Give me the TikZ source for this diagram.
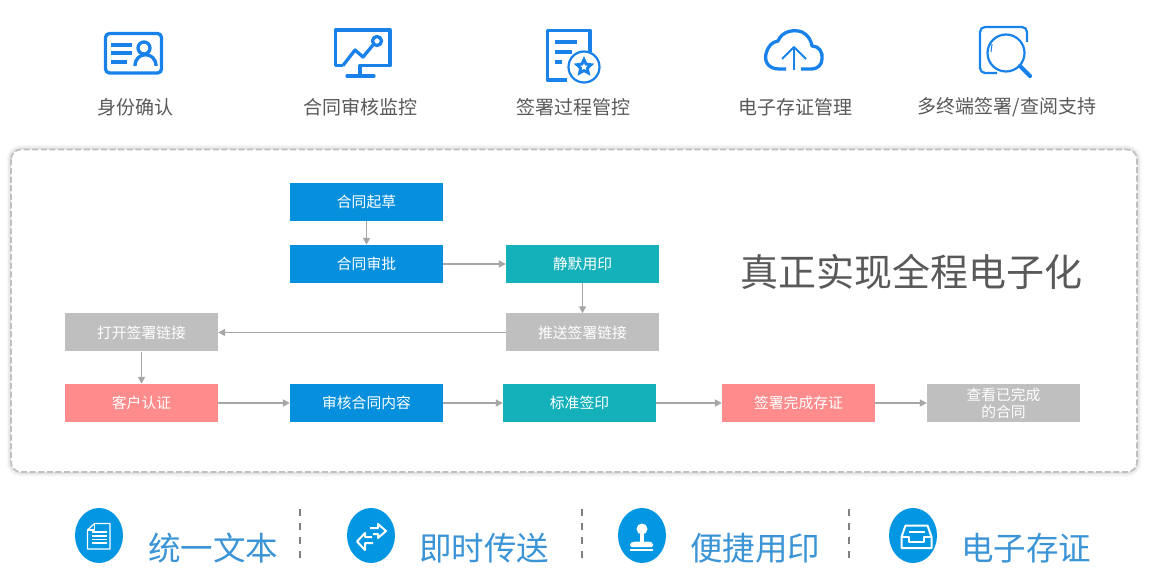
\documentclass[tikz,border=0pt]{standalone}
\usepackage{fontspec}
\setmainfont{Noto Sans CJK SC}
\usepackage{xcolor}
\usetikzlibrary{positioning, arrows.meta, shapes.geometric}
\definecolor{iconblue}{RGB}{24,130,234}
\definecolor{flowblue}{RGB}{6,143,220}
\definecolor{flowteal}{RGB}{20,177,187}
\definecolor{flowgray}{RGB}{191,191,191}
\definecolor{flowpink}{RGB}{255,140,140}
\definecolor{capgray}{RGB}{89,89,89}
\definecolor{capblue}{RGB}{58,148,214}
\definecolor{linkgray}{RGB}{166,166,166}
\definecolor{ballblue}{RGB}{3,150,226}
\newcommand{\fsz}[1]{\fontsize{#1}{#1}\selectfont}

\begin{document}
\begin{tikzpicture}[x=1pt, y=-1pt,
  flow/.style={minimum width=153pt, minimum height=38pt, inner sep=0pt, text=white, align=center, font=\fsz{14.8}},
  fblue/.style={flow, fill=flowblue},
  fteal/.style={flow, fill=flowteal},
  fgray/.style={flow, fill=flowgray},
  fpink/.style={flow, fill=flowpink},
  link/.style={-{Triangle[length=7pt, width=7pt]}, linkgray, line width=1.7pt},
  ico/.style={iconblue, line width=3.3pt, line join=round},
  thin ico/.style={iconblue, line width=2.2pt, line join=round},
  icocap/.style={text=capgray, font=\fsz{19}, inner sep=0pt},
  ball/.style={ellipse, fill=ballblue, minimum width=48pt, minimum height=55pt, inner sep=0pt},
  word/.style={text=capblue, font=\fsz{32.5}, inner sep=0pt},
  divider/.style={gray, line width=2pt, dash pattern=on 7pt off 7pt},
  glyph/.style={white, line width=1.2pt, line join=round}]
\useasboundingbox (0,0) rectangle (1160,585);
\fill[white] (0,0) rectangle (1160,585);

% top icons
\draw[ico, rounded corners=4pt] (105.5,33.5) rectangle (161.5,73);
\draw[ico] (111,45) -- (132,45) (111,53) -- (132,53) (111,62) -- (127,62);
\draw[ico] (144,48) circle (6);
\draw[ico] (135,66) .. controls (135,51) and (156,51) .. (156,66);
\draw[ico] (343,65.5) -- (335.5,65.5) -- (335.5,30) -- (390,30) -- (390,65.5) -- (360,65.5) -- (360,76);
\draw[ico, line cap=round] (347,76) -- (374,76);
\draw[ico] (343,65.5) -- (355,50) -- (363,57) -- (373,45);
\draw[ico, fill=white] (377,41) circle (4.5);
\draw[ico] (590,52) -- (590,30.5) -- (547.5,30.5) -- (547.5,80) -- (567,80);
\draw[ico] (555,42) -- (577,42) (555,52) -- (572,52) (555,62) -- (562,62);
\draw[thin ico] (584,67) circle (15.5);
\node[star, star points=5, star point ratio=2.1, draw=iconblue, line width=2.8pt, minimum size=15pt, inner sep=0pt] (badge) at (584,67) {};
\draw[ico] (786,69) -- (779,69) .. controls (769,69) and (764,62) .. (766,54) .. controls (768,46) and (772,42) .. (778,41)
  .. controls (782,31) and (794,29) .. (802,32) .. controls (808,35) and (811,40) .. (812,46)
  .. controls (819,46) and (823,52) .. (822,59) .. controls (822,65) and (817,69) .. (812,69) -- (801,69);
\draw[iconblue, line width=1.8pt, line join=round] (794,70) -- (794,47) (782,59) -- (794,47) -- (806,59);
\draw[thin ico, rounded corners=5pt] (1027,42) -- (1027,27) -- (980,27) -- (980,73) -- (997,73);
\draw[thin ico, fill=white] (1006,53) circle (18.5);
\draw[iconblue, line width=4.2pt, line cap=round] (1020,66) -- (1030,76);
\draw[iconblue, line width=1pt] (992,44) -- (991,52);

\node[icocap] (idcap) at (135,107) {身份确认};
\node[icocap] (watchcap) at (360,107) {合同审核监控};
\node[icocap] (signcap) at (573,107) {签署过程管控};
\node[icocap] (storecap) at (795,107) {电子存证管理};
\node[icocap] (termcap) at (1007,107) {多终端签署/查阅支持};

% panel
\foreach \w/\o in {9/0.03, 6/0.04, 3/0.05}
  \draw[black, opacity=\o, line width=\w pt, rounded corners=10pt] (11,149.5) rectangle (1137,472);
\draw[flowgray, fill=white, line width=1.6pt, dash pattern=on 6pt off 2.6pt, rounded corners=10pt] (11,149.5) rectangle (1137,472);

% flow boxes
\node[fblue] (draft) at (366.5,202) {合同起草};
\node[fblue] (approve) at (366.5,264) {合同审批};
\node[fteal] (silent) at (582.5,264) {静默用印};
\node[fgray] (push) at (582.5,332.5) {推送签署链接};
\node[fgray] (open) at (141.5,332.5) {打开签署链接};
\node[fpink] (client) at (141.5,403) {客户认证};
\node[fblue] (review) at (366.5,403) {审核合同内容};
\node[fteal] (stamp) at (579.5,403) {标准签印};
\node[fpink] (done) at (798.5,403) {签署完成存证};
\node[fgray, execute at begin node={\baselineskip=17pt}] (view) at (1003.5,403) {查看已完成\\的合同};

\draw[link] (draft) -- (approve);
\draw[link] (approve) -- (silent);
\draw[link] (silent) -- (push);
\draw[link] (push) -- (open);
\draw[link] (open) -- (client);
\draw[link] (client) -- (review);
\draw[link] (review) -- (stamp);
\draw[link] (stamp) -- (done);
\draw[link] (done) -- (view);

\node[text=capgray, font=\fsz{38}, inner sep=0pt] (slogan) at (911.5,272) {真正实现全程电子化};

% bottom row
\node[ball] (doc) at (99,535.5) {};
\node[ball] (swap) at (371,535.5) {};
\node[ball] (seal) at (642,535.5) {};
\node[ball] (tray) at (913,535.5) {};
\node[word, right=25pt of doc, yshift=-12.5pt] (unify) {统一文本};
\node[word, right=24pt of swap, yshift=-12.5pt] (send) {即时传送};
\node[word, right=24pt of seal, yshift=-12.5pt] (print) {便捷用印};
\node[word, right=24pt of tray, yshift=-12.5pt] (keep) {电子存证};
\coordinate (s1) at (300,509);
\coordinate (s2) at (582,509);
\coordinate (s3) at (849,509);
\foreach \c in {s1,s2,s3}
  \draw[divider] (\c) -- ++(0,50);

\draw[glyph] (87.5,530) -- (94.5,523.5) -- (110,523.5) -- (110,549) -- (87.5,549) -- cycle;
\draw[glyph] (87.5,530) -- (94.5,530) -- (94.5,523.5);
\draw[glyph] (92,532) -- (107,532) (92,536) -- (107,536) (92,539.5) -- (107,539.5) (92,543) -- (107,543);
\draw[glyph, line width=2pt] (370,528) -- (378,528) -- (378,524) -- (386,531) -- (378,538) -- (378,534) -- (373,534);
\draw[glyph, line width=2pt] (373,543) -- (365,543) -- (365,550) -- (357,541.5) -- (365,533) -- (365,537) -- (372,537);
\fill[white] (642,529) circle (5.5);
\fill[white] (640,532) rectangle (644,543);
\fill[white, rounded corners=1.5pt] (630,547) -- (630,543) -- (635,541.5) -- (649,541.5) -- (653,543) -- (653,547) -- cycle;
\fill[white] (630,548.5) rectangle (653,550.5);
\draw[glyph, line width=2pt] (901.5,537) -- (905.5,525.5) -- (927.5,525.5) -- (931.5,537) -- (931.5,548) -- (901.5,548) -- cycle;
\draw[glyph, line width=2pt] (901.5,537) -- (909,537) -- (909,542) -- (924,542) -- (924,537) -- (931.5,537);
\draw[glyph, line width=2pt] (908.5,532) -- (924.5,532);
\end{tikzpicture}
\end{document}
